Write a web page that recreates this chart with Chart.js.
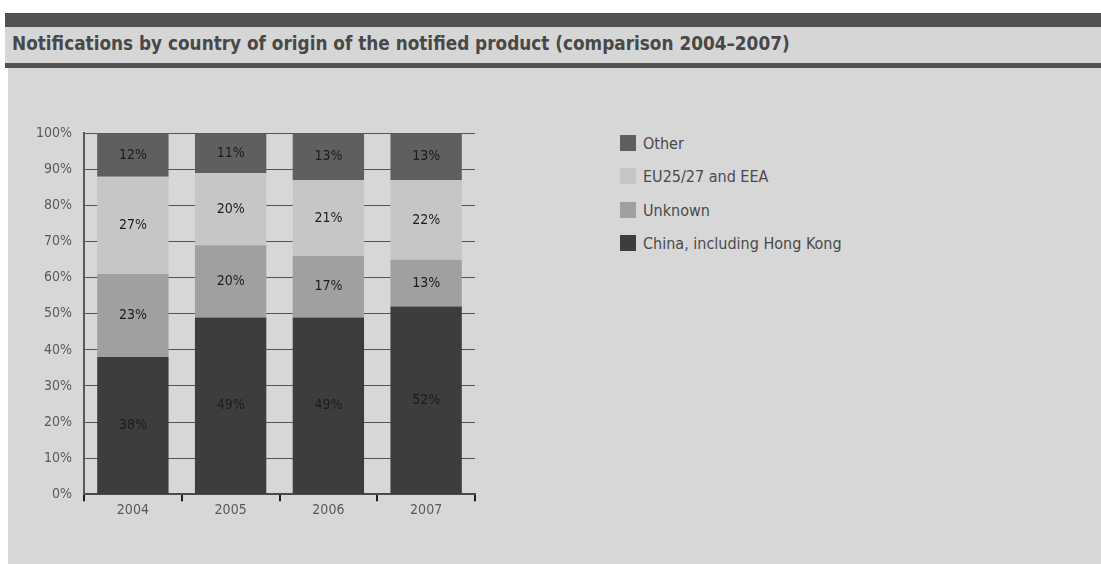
<!DOCTYPE html>
<html>
<head>
<meta charset="utf-8">
<script src="https://cdn.jsdelivr.net/npm/chart.js@4.4.0/dist/chart.umd.min.js"></script>
<style>
  html, body { margin: 0; padding: 0; background: #fff; }
  body { width: 1101px; height: 564px; position: relative; overflow: hidden; font-family: "DejaVu Sans Condensed", "DejaVu Sans", sans-serif; }
  .panel { position: absolute; left: 8px; top: 13px; right: 0; bottom: 0; background: #d7d7d7; }
  .band { position: absolute; left: 5px; right: 0; top: 13px; height: 14px; background: #525252; }
  .titlebar { position: absolute; left: 5px; right: 0; top: 27px; height: 36px; background: #d6d6d6; border-bottom: 5px solid #525252; }
  .titlebar h1 { margin: 0; position: absolute; left: 7px; top: 6px; font-size: 18.8px; font-weight: bold; color: #484848; white-space: nowrap; }
  #wrap { position: absolute; left: 10px; top: 113px; width: 471px; height: 407px; }
  #legend { position: absolute; left: 620px; top: 134px; font-size: 16px; color: #4a4a4a; }
  #legend .item { height: 33.3px; display: flex; align-items: flex-start; }
  #legend .sw { width: 16px; height: 16px; margin-right: 7px; margin-top: 1px; }
</style>
</head>
<body>
<div class="panel"></div>
<div class="band"></div>
<div class="titlebar"><h1>Notifications by country of origin of the notified product (comparison 2004–2007)</h1></div>
<div id="wrap"><canvas id="chart"></canvas></div>
<div id="legend"></div>
<script>
// Data
const years = ['2004', '2005', '2006', '2007'];
const china = [38, 49, 49, 52];
const unknown = [23, 20, 17, 13];
const euEea = [27, 20, 21, 22];
const other = [12, 11, 13, 13];

const seriesNames = ['China, including Hong Kong', 'Unknown', 'EU25/27 and EEA', 'Other'];
const seriesColors = ['#3d3d3d', '#a0a0a0', '#c6c6c6', '#5f5f5f'];
const yTicks = [0, 10, 20, 30, 40, 50, 60, 70, 80, 90, 100];

const FONT = '"DejaVu Sans Condensed", "DejaVu Sans", sans-serif';

// legend, top to bottom is reverse stacking order
const legend = document.getElementById('legend');
for (let i = seriesNames.length - 1; i >= 0; i--) {
  const el = document.createElement('div');
  el.className = 'item';
  el.innerHTML = `<span class="sw" style="background:${seriesColors[i]}"></span><span>${seriesNames[i]}</span>`;
  legend.appendChild(el);
}

// value labels in the middle of each segment
const segmentLabels = {
  id: 'segmentLabels',
  afterDraw(chart) {
    const c = chart.ctx;
    c.save();
    c.font = '14px ' + FONT;
    c.fillStyle = '#1c1c1c';
    c.textAlign = 'center';
    c.textBaseline = 'middle';
    chart.data.datasets.forEach((ds, di) => {
      chart.getDatasetMeta(di).data.forEach((bar, i) => {
        const { x, y, base } = bar.getProps(['x', 'y', 'base'], true);
        c.fillText(ds.data[i] + '%', x, (y + base) / 2);
      });
    });
    c.restore();
  }
};

const datasets = [china, unknown, euEea, other].map((d, i) => ({
  label: seriesNames[i],
  data: d,
  backgroundColor: seriesColors[i],
  borderWidth: 0,
  barPercentage: 0.73,
  categoryPercentage: 1
}));

const ctx = document.getElementById('chart').getContext('2d');
new Chart(ctx, {
  type: 'bar',
  data: { labels: years, datasets },
  options: {
    responsive: true,
    maintainAspectRatio: false,
    animation: false,
    layout: { padding: { top: 4, right: 6, left: 0, bottom: 0 } },
    plugins: { legend: { display: false }, tooltip: { enabled: false } },
    scales: {
      x: {
        stacked: true,
        grid: { drawOnChartArea: false, color: '#1e1e1e', lineWidth: 2, tickLength: 7, offset: true },
        border: { color: '#4a4a4a', width: 2 },
        ticks: { color: '#5a5a5a', font: { size: 14, family: FONT }, padding: 1 }
      },
      y: {
        stacked: true,
        min: 0,
        max: 100,
        z: 1,
        afterBuildTicks: s => { s.ticks = yTicks.map(v => ({ value: v })); },
        afterFit: s => { s.width = 74; },
        grid: { color: '#555555', lineWidth: 1, drawTicks: false },
        border: { color: '#5a5a5a', width: 2 },
        ticks: { color: '#5a5a5a', padding: 12, font: { size: 14, family: FONT }, callback: v => v + '%' }
      }
    }
  },
  plugins: [segmentLabels]
});
</script>
</body>
</html>
